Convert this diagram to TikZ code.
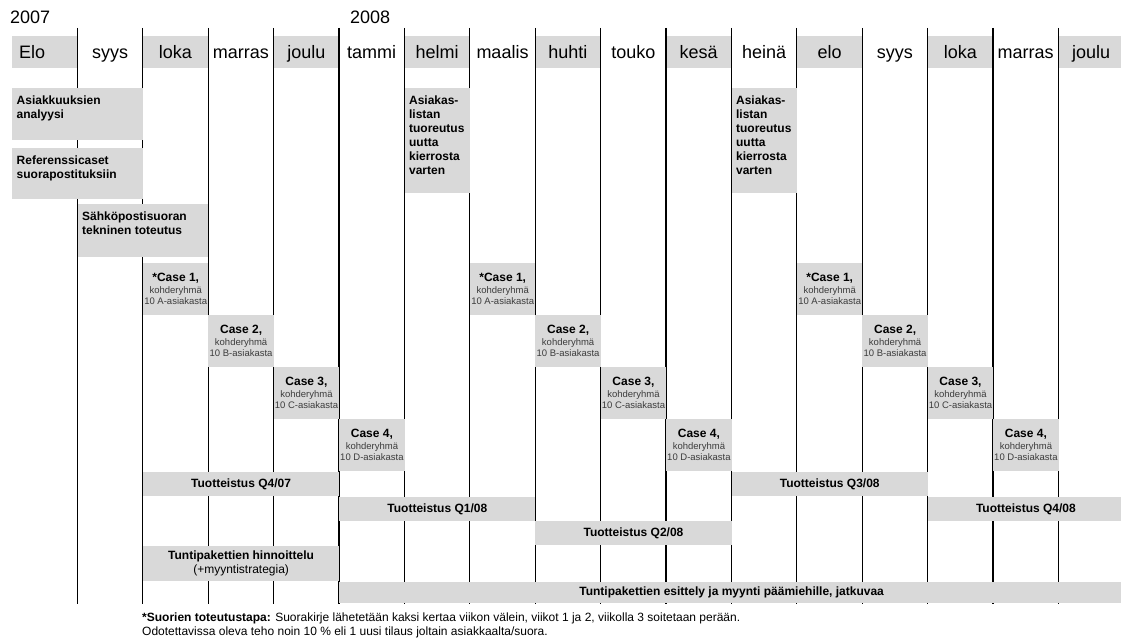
\documentclass[tikz,border=0pt]{standalone}
\usepackage{fontspec}
\setmainfont{Liberation Sans}
\usepackage{xcolor}
\definecolor{bandgray}{RGB}{217,217,217}
\definecolor{subtext}{RGB}{60,60,60}
\newcommand{\casehead}[1]{{\color{black}\bfseries\fontsize{12}{14}\selectfont #1}}

\begin{document}
\begin{tikzpicture}[x=1pt,y=-1pt,node distance=65.4pt,
  month/.style={minimum width=65.4pt,minimum height=32pt,inner sep=0pt,text height=13pt,text depth=0pt,font=\fontsize{18}{20}\selectfont},
  year/.style={anchor=west,inner sep=0pt,text height=13pt,text depth=0pt,font=\fontsize{18}{20}\selectfont},
  bar/.style={fill=bandgray,anchor=north west,inner sep=0pt},
  bartext/.style={anchor=north west,inner sep=0pt,align=left,font=\bfseries\fontsize{12}{14}\selectfont},
  case/.style={fill=bandgray,anchor=north west,inner sep=0pt,minimum width=65.4pt,minimum height=52pt,align=center,text=subtext,font=\fontsize{9.5}{11}\selectfont},
  quarter/.style={fill=bandgray,anchor=north west,inner sep=0pt,minimum width=196.2pt,minimum height=24pt,font=\bfseries\fontsize{12}{14}\selectfont}]

\useasboundingbox (0,0) rectangle (1121,642);

% years
\node[year] (y1) at (10,17) {2007};
\node[year] (y2) at (350,17) {2008};

% months
\node[month,fill=bandgray,text width=51.4pt,inner xsep=7pt,align=left] (m1) at (44.7,52) {Elo};
\node[month] (m2) [right of = m1] {syys};
\node[month,fill=bandgray] (m3) [right of = m2] {loka};
\node[month] (m4) [right of = m3] {marras};
\node[month,fill=bandgray] (m5) [right of = m4] {joulu};
\node[month] (m6) [right of = m5] {tammi};
\node[month,fill=bandgray] (m7) [right of = m6] {helmi};
\node[month] (m8) [right of = m7] {maalis};
\node[month,fill=bandgray] (m9) [right of = m8] {huhti};
\node[month] (m10) [right of = m9] {touko};
\node[month,fill=bandgray] (m11) [right of = m10] {kesä};
\node[month] (m12) [right of = m11] {heinä};
\node[month,fill=bandgray] (m13) [right of = m12] {elo};
\node[month] (m14) [right of = m13] {syys};
\node[month,fill=bandgray] (m15) [right of = m14] {loka};
\node[month] (m16) [right of = m15] {marras};
\node[month,fill=bandgray] (m17) [right of = m16] {joulu};

% month borders
\foreach \i in {1,...,16}
  \draw[line width=1.3pt] (12+65.4*\i,28) -- (12+65.4*\i,604);

% preparations
\node[bar,minimum width=130.8pt,minimum height=52pt] (ana) at (12,88) {};
\node[bartext] (anat) at ([xshift=4.5pt,yshift=-8pt]ana.north west) {Asiakkuuksien\\analyysi};
\node[bar,minimum width=130.8pt,minimum height=51pt] (ref) at (12,148) {};
\node[bartext] (reft) at ([xshift=4.5pt,yshift=-8pt]ref.north west) {Referenssicaset\\suorapostituksiin};
\node[bar,minimum width=130.8pt,minimum height=53pt] (sah) at (77.4,204) {};
\node[bartext] (saht) at ([xshift=4.5pt,yshift=-8pt]sah.north west) {Sähköpostisuoran\\tekninen toteutus};
\node[bar,minimum width=65.4pt,minimum height=105pt] (list1) at (404.4,88) {};
\node[bartext] (list1t) at ([xshift=4.5pt,yshift=-8pt]list1.north west) {Asiakas-\\listan\\tuoreutus\\uutta\\kierrosta\\varten};
\node[bar,minimum width=65.4pt,minimum height=105pt] (list2) at (731.4,88) {};
\node[bartext] (list2t) at ([xshift=4.5pt,yshift=-8pt]list2.north west) {Asiakas-\\listan\\tuoreutus\\uutta\\kierrosta\\varten};

% cases, first round
\node[case] (c1a) at (142.8,263) {\casehead{*Case 1,}\\[1pt]kohderyhmä\\10 A-asiakasta};
\node[case] (c2a) at (208.2,315) {\casehead{Case 2,}\\[1pt]kohderyhmä\\10 B-asiakasta};
\node[case] (c3a) at (273.6,367) {\casehead{Case 3,}\\[1pt]kohderyhmä\\10 C-asiakasta};
\node[case] (c4a) at (339,419) {\casehead{Case 4,}\\[1pt]kohderyhmä\\10 D-asiakasta};
% second round
\node[case] (c1b) at (469.8,263) {\casehead{*Case 1,}\\[1pt]kohderyhmä\\10 A-asiakasta};
\node[case] (c2b) at (535.2,315) {\casehead{Case 2,}\\[1pt]kohderyhmä\\10 B-asiakasta};
\node[case] (c3b) at (600.6,367) {\casehead{Case 3,}\\[1pt]kohderyhmä\\10 C-asiakasta};
\node[case] (c4b) at (666,419) {\casehead{Case 4,}\\[1pt]kohderyhmä\\10 D-asiakasta};
% third round
\node[case] (c1c) at (796.8,263) {\casehead{*Case 1,}\\[1pt]kohderyhmä\\10 A-asiakasta};
\node[case] (c2c) at (862.2,315) {\casehead{Case 2,}\\[1pt]kohderyhmä\\10 B-asiakasta};
\node[case] (c3c) at (927.6,367) {\casehead{Case 3,}\\[1pt]kohderyhmä\\10 C-asiakasta};
\node[case] (c4c) at (993,419) {\casehead{Case 4,}\\[1pt]kohderyhmä\\10 D-asiakasta};

% productization
\node[quarter] (q407) at (142.8,472) {Tuotteistus Q4/07};
\node[quarter] (q108) at (339,497) {Tuotteistus Q1/08};
\node[quarter] (q208) at (535.2,521) {Tuotteistus Q2/08};
\node[quarter] (q308) at (731.4,472) {Tuotteistus Q3/08};
\node[quarter] (q408) at (927.6,497) {Tuotteistus Q4/08};

% sales
\node[bar,minimum width=196.2pt,minimum height=35pt,align=center,font=\fontsize{12}{14}\selectfont] (hin) at (142.8,546) {\textbf{Tuntipakettien hinnoittelu}\\(+myyntistrategia)};
\node[bar,minimum width=784.8pt,minimum height=21pt,font=\bfseries\fontsize{12}{14}\selectfont] (esi) at (339,582) {Tuntipakettien esittely ja myynti päämiehille, jatkuvaa};

% footnote
\node[anchor=north west,inner sep=0pt,align=left,font=\fontsize{12}{13.5}\selectfont] (note) at (142,613) {\textbf{*Suorien toteutustapa:} Suorakirje lähetetään kaksi kertaa viikon välein, viikot 1 ja 2, viikolla 3 soitetaan perään.\\Odotettavissa oleva teho noin 10 \% eli 1 uusi tilaus joltain asiakkaalta/suora.};
\end{tikzpicture}
\end{document}
